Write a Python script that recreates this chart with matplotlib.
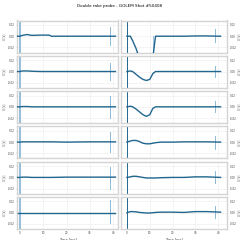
import matplotlib
matplotlib.use("Agg")
import matplotlib.pyplot as plt

# key points: (time [ms], voltage [V]) for the smoothed signal
t_left = [-1.0, 0.0, 1.0, 3.0, 5.0, 9.0, 12.5, 13.5, 20.0, 30.0, 41.0]
left_signals = [
    [0.0, 0.0, 0.0015, 0.003, 0.0015, 0.002, 0.002, 0.0, 0.0, 0.0, 0.0],
    [0.0, 0.0, 0.001, 0.001, 0.0005, 0.0, 0.0, 0.0, 0.0, 0.0, 0.0],
    [0.0, 0.0, 0.0005, 0.0005, 0.0, 0.0, 0.0, 0.0, 0.0, 0.0, 0.0],
    [0.0, 0.0, 0.0005, 0.0005, 0.0005, 0.0005, 0.0005, 0.0005, 0.0, 0.0005, 0.0005],
    [0.0, 0.0, 0.0005, 0.0005, 0.0, 0.0, 0.0, 0.0, 0.0005, 0.0005, 0.0005],
    [0.0, 0.0, 0.0, 0.0, 0.0, 0.0, 0.0, 0.0, 0.0, 0.0, 0.0],
]
left_spike_hi = [0.016, 0.015, 0.02, 0.018, 0.018, 0.022]
left_spike_lo = [-0.015, -0.015, -0.02, -0.018, -0.02, -0.018]

t_right = [0.0, 1.5, 2.5, 4.0, 5.5, 7.0, 8.5, 10.0, 11.3, 12.5, 15.0, 20.0, 25.0, 30.0, 35.0, 41.0]
right_signals = [
    [0.0, 0.0, -0.008, -0.022, -0.04, -0.04, -0.04, -0.04, -0.04, 0.0, 0.0, 0.0, 0.0, 0.0005, 0.0005, 0.0],
    [0.0, 0.001, 0.0, -0.005, -0.01, -0.014, -0.016, -0.014, -0.004, 0.0, 0.0, 0.0, 0.0, 0.0, 0.0, 0.0],
    [0.0, 0.001, 0.0, -0.004, -0.009, -0.014, -0.017, -0.014, -0.003, 0.0, 0.0, 0.0, 0.0, 0.0, 0.0, 0.0],
    [0.0, 0.002, 0.003, 0.003, 0.001, -0.002, -0.003, -0.003, -0.002, -0.001, 0.0, 0.0, 0.0005, 0.0005, 0.0005, 0.0],
    [0.0, 0.001, 0.002, 0.002, 0.001, 0.0, -0.001, -0.001, -0.001, -0.001, -0.0005, 0.0, 0.0, 0.001, 0.001, 0.0],
    [0.0, 0.002, 0.002, 0.0015, 0.0005, 0.0, -0.0005, -0.0005, 0.0, 0.0005, 0.001, 0.001, 0.0005, 0.002, 0.002, 0.001],
]
right_spike_hi = [0.012, 0.01, 0.011, 0.011, 0.012, 0.012]
right_spike_lo = [-0.01, -0.01, -0.01, -0.012, -0.01, -0.01]

t_break = 0.0
t_spike_left = 38.5
t_spike_right = 38.7

dark = "#21668f"
light = "#8dbad8"

fig = plt.figure(figsize=(2.4, 2.4), dpi=100)
fig.text(0.5, 1 - 6.5 / 240, "Double rake probe - GOLEM Shot #50408",
         ha="center", va="center", fontsize=3)

row_tops = [20.5, 55.8, 91.1, 126.4, 161.7, 197.0]
row_h = 32.0
cols = [(17.0, 101.0, (-1.3, 42.1)), (121.0, 106.0, (-2.6, 43.8))]

for c, (x0, w, xlim) in enumerate(cols):
    signals = left_signals if c == 0 else right_signals
    tt = t_left if c == 0 else t_right
    hi = left_spike_hi if c == 0 else right_spike_hi
    lo = left_spike_lo if c == 0 else right_spike_lo
    ts = t_spike_left if c == 0 else t_spike_right
    for r in range(6):
        y0 = 240 - row_tops[r] - row_h
        ax = fig.add_axes([x0 / 240, y0 / 240, w / 240, row_h / 240])
        # raw spikes (light) and smoothed signal (dark)
        ax.plot([t_break, t_break], [-0.05, 0.05],
                color=light if c == 0 else dark, lw=1.3 if c == 0 else 0.7, zorder=2)
        ax.plot([ts, ts], [lo[r], hi[r]], color=light, lw=0.7, zorder=2)
        if c == 1 and r == 0:
            ax.plot([11.3, 11.3], [-0.04, 0.0], color=light, lw=0.6, zorder=2)
        ax.plot(tt, signals[r], color=dark, lw=1.0, zorder=3)
        ax.set_xlim(*xlim)
        ax.set_ylim(-0.029, 0.028)
        ax.set_yticks([-0.02, 0.0, 0.02])
        ax.set_yticklabels(["-0.02", "0.00", "0.02"])
        ax.set_xticks([0, 10, 20, 30, 40])
        ax.grid(True, color="#ececec", lw=0.4)
        ax.set_axisbelow(True)
        for sp in ax.spines.values():
            sp.set_color("#d4d4d4")
            sp.set_linewidth(1.0)
        ax.tick_params(length=1.0, width=0.3, pad=0.8, labelsize=2.0,
                       color="#bbbbbb", labelcolor="#444444")
        if c == 1:
            ax.yaxis.tick_right()
            ax.yaxis.set_label_position("right")
        ax.set_ylabel("U [V]", fontsize=1.8, labelpad=0.6, color="#444444")
        if r < 5:
            ax.set_xticklabels([])
        else:
            ax.set_xlabel("Time [ms]", fontsize=2.5, labelpad=1.0, color="#444444")

fig.savefig("out.png", dpi=100)
